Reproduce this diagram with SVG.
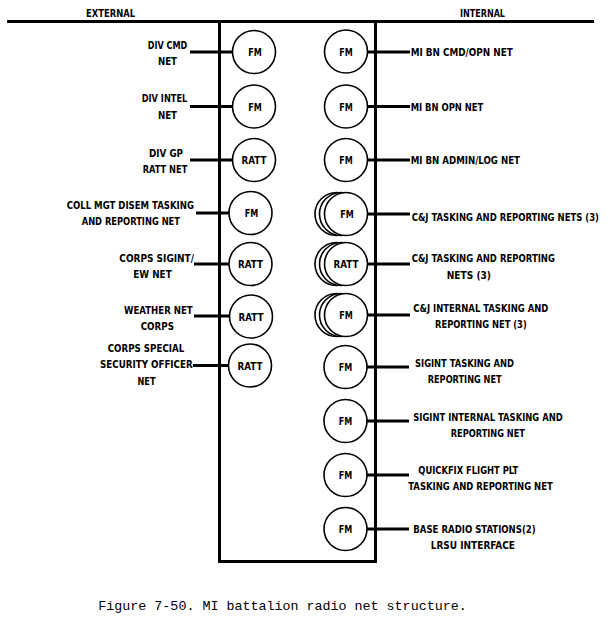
<svg xmlns="http://www.w3.org/2000/svg" width="610" height="620" viewBox="0 0 610 620">
<style>
  .bg { fill: #ffffff; }
  .frame { fill: none; stroke: #000; stroke-width: 3; stroke-linejoin: miter; }
  .conn line { stroke: #000; stroke-width: 3; }
  .radio { fill: #fff; stroke: #000; stroke-width: 1.6; }
  .lbl { font-family: "Liberation Sans Narrow", "DejaVu Sans Condensed", "Liberation Sans", sans-serif; font-weight: bold; font-size: 11px; fill: #000; }
  .in { text-anchor: middle; }
  .cap { font-family: "Liberation Mono", "DejaVu Sans Mono", monospace; font-size: 13.3px; fill: #000; }
</style>
<rect class="bg" x="0" y="0" width="610" height="620"/>

<g id="frame">
  <line x1="7" y1="21.5" x2="594" y2="21.5" stroke="#000" stroke-width="3"/>
  <path class="frame" d="M219.5 21.5 V561.5 H375.5 V21.5"/>
  <text class="lbl" x="86" y="17.3" textLength="49" lengthAdjust="spacingAndGlyphs">EXTERNAL</text>
  <text class="lbl" x="460" y="17.3" textLength="45" lengthAdjust="spacingAndGlyphs">INTERNAL</text>
</g>

<g id="connectors" class="conn">
  <line x1="190" y1="52" x2="232" y2="52"/>
  <line x1="190" y1="106.5" x2="232" y2="106.5"/>
  <line x1="190" y1="160" x2="232" y2="160"/>
  <line x1="196" y1="213" x2="229" y2="213"/>
  <line x1="194" y1="264" x2="229" y2="264"/>
  <line x1="194" y1="316" x2="229" y2="316"/>
  <line x1="193" y1="365.5" x2="229" y2="365.5"/>
  <line x1="368" y1="52" x2="410" y2="52"/>
  <line x1="368" y1="106.5" x2="410" y2="106.5"/>
  <line x1="368" y1="160" x2="410" y2="160"/>
  <line x1="368" y1="214" x2="410" y2="214"/>
  <line x1="368" y1="264" x2="410" y2="264"/>
  <line x1="368" y1="315" x2="410" y2="315"/>
  <line x1="367" y1="367" x2="409" y2="367"/>
  <line x1="367" y1="421" x2="409" y2="421"/>
  <line x1="367" y1="475" x2="409" y2="475"/>
  <line x1="367" y1="529" x2="409" y2="529"/>
</g>

<!-- External nodes -->
<g id="ext-div-cmd">
  <circle class="radio" cx="254" cy="52" r="21.5"/>
  <text class="lbl in" x="255" y="56" textLength="13.5" lengthAdjust="spacingAndGlyphs">FM</text>
  <text class="lbl" x="147.7" y="48.7" textLength="39.6" lengthAdjust="spacingAndGlyphs">DIV CMD</text>
  <text class="lbl" x="158" y="65.3" textLength="19" lengthAdjust="spacingAndGlyphs">NET</text>
</g>
<g id="ext-div-intel">
  <circle class="radio" cx="254" cy="106.5" r="21.5"/>
  <text class="lbl in" x="255" y="110.5" textLength="13.5" lengthAdjust="spacingAndGlyphs">FM</text>
  <text class="lbl" x="141.7" y="102" textLength="45.6" lengthAdjust="spacingAndGlyphs">DIV INTEL</text>
  <text class="lbl" x="158" y="118.7" textLength="19" lengthAdjust="spacingAndGlyphs">NET</text>
</g>
<g id="ext-div-gp">
  <circle class="radio" cx="254" cy="160" r="21.5"/>
  <text class="lbl in" x="254" y="164" textLength="25" lengthAdjust="spacingAndGlyphs">RATT</text>
  <text class="lbl" x="149" y="156.7" textLength="34" lengthAdjust="spacingAndGlyphs">DIV GP</text>
  <text class="lbl" x="142.7" y="173.3" textLength="44.6" lengthAdjust="spacingAndGlyphs">RATT NET</text>
</g>
<g id="ext-coll-mgt">
  <circle class="radio" cx="250.5" cy="213" r="21.5"/>
  <text class="lbl in" x="251.5" y="217" textLength="13.5" lengthAdjust="spacingAndGlyphs">FM</text>
  <text class="lbl" x="66.7" y="209.3" textLength="127.3" lengthAdjust="spacingAndGlyphs">COLL MGT DISEM TASKING</text>
  <text class="lbl" x="81.7" y="225" textLength="98.3" lengthAdjust="spacingAndGlyphs">AND REPORTING NET</text>
</g>
<g id="ext-corps-sigint">
  <circle class="radio" cx="250.5" cy="264" r="21.5"/>
  <text class="lbl in" x="250.5" y="268" textLength="25" lengthAdjust="spacingAndGlyphs">RATT</text>
  <text class="lbl" x="119.3" y="261.7" textLength="74.7" lengthAdjust="spacingAndGlyphs">CORPS SIGINT/</text>
  <text class="lbl" x="133.3" y="277.7" textLength="38.4" lengthAdjust="spacingAndGlyphs">EW NET</text>
</g>
<g id="ext-weather">
  <circle class="radio" cx="251" cy="316.5" r="21.5"/>
  <text class="lbl in" x="251" y="320.5" textLength="25" lengthAdjust="spacingAndGlyphs">RATT</text>
  <text class="lbl" x="124" y="314" textLength="68.7" lengthAdjust="spacingAndGlyphs">WEATHER NET</text>
  <text class="lbl" x="140.7" y="330" textLength="33.3" lengthAdjust="spacingAndGlyphs">CORPS</text>
</g>
<g id="ext-corps-sso">
  <circle class="radio" cx="250" cy="365.5" r="21.5"/>
  <text class="lbl in" x="250" y="369.5" textLength="25" lengthAdjust="spacingAndGlyphs">RATT</text>
  <text class="lbl" x="107.7" y="352" textLength="76.6" lengthAdjust="spacingAndGlyphs">CORPS SPECIAL</text>
  <text class="lbl" x="100" y="368.3" textLength="92.7" lengthAdjust="spacingAndGlyphs">SECURITY OFFICER</text>
  <text class="lbl" x="137.5" y="384.7" textLength="18" lengthAdjust="spacingAndGlyphs">NET</text>
</g>

<!-- Internal nodes -->
<g id="int-mi-bn-cmd">
  <circle class="radio" cx="346" cy="51.5" r="21.5"/>
  <text class="lbl in" x="346" y="55.7" textLength="13.5" lengthAdjust="spacingAndGlyphs">FM</text>
  <text class="lbl" x="410.7" y="55.7" textLength="102" lengthAdjust="spacingAndGlyphs">MI BN CMD/OPN NET</text>
</g>
<g id="int-mi-bn-opn">
  <circle class="radio" cx="346" cy="106.5" r="21.5"/>
  <text class="lbl in" x="346" y="110.5" textLength="13.5" lengthAdjust="spacingAndGlyphs">FM</text>
  <text class="lbl" x="410.7" y="110.7" textLength="72.6" lengthAdjust="spacingAndGlyphs">MI BN OPN NET</text>
</g>
<g id="int-mi-bn-admin">
  <circle class="radio" cx="346" cy="160" r="21.5"/>
  <text class="lbl in" x="346" y="164" textLength="13.5" lengthAdjust="spacingAndGlyphs">FM</text>
  <text class="lbl" x="410.7" y="164" textLength="109.3" lengthAdjust="spacingAndGlyphs">MI BN ADMIN/LOG NET</text>
</g>
<g id="int-cj-fm">
  <circle class="radio" cx="336.5" cy="214" r="21.5"/>
  <circle class="radio" cx="341" cy="214" r="21.5"/>
  <circle class="radio" cx="346" cy="214" r="21.5"/>
  <text class="lbl in" x="347" y="218" textLength="13.5" lengthAdjust="spacingAndGlyphs">FM</text>
  <text class="lbl" x="411.7" y="220.7" textLength="187.3" lengthAdjust="spacingAndGlyphs">C&amp;J TASKING AND REPORTING NETS (3)</text>
</g>
<g id="int-cj-ratt">
  <circle class="radio" cx="336.5" cy="264" r="21.5"/>
  <circle class="radio" cx="341" cy="264" r="21.5"/>
  <circle class="radio" cx="346" cy="264" r="21.5"/>
  <text class="lbl in" x="346" y="268" textLength="25" lengthAdjust="spacingAndGlyphs">RATT</text>
  <text class="lbl" x="411.7" y="261.7" textLength="143.3" lengthAdjust="spacingAndGlyphs">C&amp;J TASKING AND REPORTING</text>
  <text class="lbl" x="446.7" y="278.7" textLength="44.3" lengthAdjust="spacingAndGlyphs">NETS  (3)</text>
</g>
<g id="int-cj-internal">
  <circle class="radio" cx="336.5" cy="315" r="21.5"/>
  <circle class="radio" cx="341" cy="315" r="21.5"/>
  <circle class="radio" cx="346" cy="315" r="21.5"/>
  <text class="lbl in" x="346" y="319" textLength="13.5" lengthAdjust="spacingAndGlyphs">FM</text>
  <text class="lbl" x="413.3" y="311.7" textLength="135" lengthAdjust="spacingAndGlyphs">C&amp;J INTERNAL TASKING AND</text>
  <text class="lbl" x="435" y="328.3" textLength="91.7" lengthAdjust="spacingAndGlyphs">REPORTING NET (3)</text>
</g>
<g id="int-sigint">
  <circle class="radio" cx="345.5" cy="367" r="21.5"/>
  <text class="lbl in" x="345.5" y="371" textLength="13.5" lengthAdjust="spacingAndGlyphs">FM</text>
  <text class="lbl" x="415" y="366.7" textLength="99" lengthAdjust="spacingAndGlyphs">SIGINT TASKING AND</text>
  <text class="lbl" x="427.7" y="382.7" textLength="74" lengthAdjust="spacingAndGlyphs">REPORTING NET</text>
</g>
<g id="int-sigint-internal">
  <circle class="radio" cx="345.5" cy="421" r="21.5"/>
  <text class="lbl in" x="345.5" y="425" textLength="13.5" lengthAdjust="spacingAndGlyphs">FM</text>
  <text class="lbl" x="413.3" y="420.7" textLength="149.4" lengthAdjust="spacingAndGlyphs">SIGINT INTERNAL TASKING AND</text>
  <text class="lbl" x="450.7" y="436.7" textLength="74.3" lengthAdjust="spacingAndGlyphs">REPORTING NET</text>
</g>
<g id="int-quickfix">
  <circle class="radio" cx="345.5" cy="475" r="21.5"/>
  <text class="lbl in" x="345.5" y="479" textLength="13.5" lengthAdjust="spacingAndGlyphs">FM</text>
  <text class="lbl" x="418.3" y="473.7" textLength="100" lengthAdjust="spacingAndGlyphs">QUICKFIX FLIGHT PLT</text>
  <text class="lbl" x="408.3" y="490" textLength="144.4" lengthAdjust="spacingAndGlyphs">TASKING AND REPORTING NET</text>
</g>
<g id="int-base-radio">
  <circle class="radio" cx="345.5" cy="529" r="21.5"/>
  <text class="lbl in" x="345.5" y="533" textLength="13.5" lengthAdjust="spacingAndGlyphs">FM</text>
  <text class="lbl" x="413.3" y="533.3" textLength="122.4" lengthAdjust="spacingAndGlyphs">BASE RADIO STATIONS(2)</text>
  <text class="lbl" x="430.7" y="549" textLength="84.3" lengthAdjust="spacingAndGlyphs">LRSU INTERFACE</text>
</g>

<text class="cap" x="98.3" y="609.5" textLength="368.4" lengthAdjust="spacingAndGlyphs">Figure 7-50. MI battalion radio net structure.</text>
</svg>
